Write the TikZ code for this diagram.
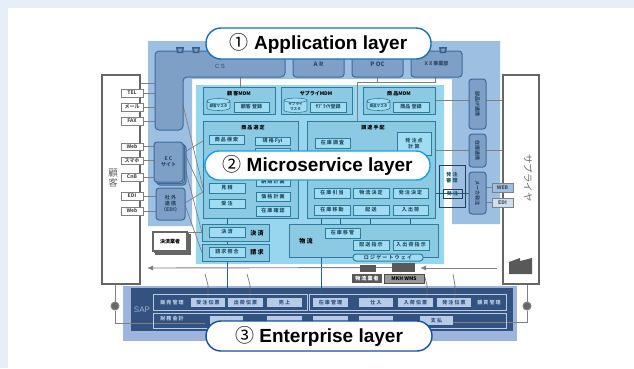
\documentclass[tikz,border=0pt]{standalone}
\usepackage{fontspec}
\setmainfont{Liberation Sans}
\newfontfamily\jpfont{Noto Sans CJK JP}
\usetikzlibrary{shapes.geometric,arrows.meta}
\pgfdeclarelayer{panellayer}
\pgfdeclarelayer{linelayer}
\pgfsetlayers{panellayer,linelayer,main}
\definecolor{pagetint}{HTML}{E6EFF8}
\definecolor{apppanel}{HTML}{9DBFE1}
\definecolor{appfill}{HTML}{7EA0C6}
\definecolor{appline}{HTML}{3F6A98}
\definecolor{micropanel}{HTML}{98D6F0}
\definecolor{microfill}{HTML}{8CCAE4}
\definecolor{microinner}{HTML}{A0DDF4}
\definecolor{microline}{HTML}{2F7C98}
\definecolor{microtext}{HTML}{235268}
\definecolor{sappanel}{HTML}{9DB5DC}
\definecolor{sapdark}{HTML}{33527F}
\definecolor{sapbox}{HTML}{B6CBE6}
\definecolor{greyline}{HTML}{808080}
\definecolor{apprim}{HTML}{186EB4}
\definecolor{microrim}{HTML}{18A0DE}
\definecolor{entrim}{HTML}{184EA0}
\tikzset{
	pxbase/.style={inner sep=0pt,outer sep=0pt,align=center,font=\jpfont\bfseries\fontsize{5}{6}\selectfont},
	tagbox/.style={pxbase,draw=greyline,fill=white,line width=.7pt,text=black!70},
	frontbox/.style={pxbase,draw=black!60,fill=white,line width=1.1pt},
	appbox/.style={pxbase,draw=appline,fill=appfill,line width=1pt,rounded corners=3pt,text=appline!70!black},
	groupbox/.style={pxbase,draw=microline,fill=microfill,line width=1pt,text=microtext},
	innerbox/.style={pxbase,draw=microline,fill=microinner,line width=.6pt,text=microtext},
	stockbox/.style={pxbase,font=\jpfont\bfseries\fontsize{3.6}{4.2}\selectfont,cylinder,shape border rotate=90,aspect=.3,draw=microline,fill=microinner,line width=.6pt,text=microtext},
	approvalbox/.style={pxbase,draw=appline!60!black,line width=.9pt,text=microtext},
	sapbar/.style={pxbase,draw=sapbox,line width=.7pt,text=sapbox},
	sapcell/.style={pxbase,fill=sapbox,text=sapdark},
	linkline/.style={draw=greyline,line width=.7pt},
	microlink/.style={draw=microline!80!black,line width=.6pt},
	saplink/.style={draw=black!60,line width=.6pt},
	darkicon/.style={pxbase,fill=black!65,text=white},
	portdot/.style={circle,draw=greyline,fill=black!60,line width=1pt,inner sep=0pt,minimum size=8pt},
	layerpill/.style={rounded corners=14pt,fill=white,line width=1.4pt,inner sep=0pt,outer sep=0pt,font=\bfseries\fontsize{19}{20}\selectfont}
}
\newcommand{\pxbox}[7][]{\node[#2,#1,minimum width={(#6-#4)*1pt},minimum height={(#7-#5)*1pt}] (#3) at ({(#4+#6)/2},{(#5+#7)/2})}
\newcommand{\pilltext}[2]{{\jpfont\mdseries #1}\ #2}
\begin{document}
\begin{tikzpicture}[x=1pt,y=-1pt]
	\useasboundingbox (0,0) rectangle (634,368);
	\begin{pgfonlayer}{panellayer}
	\fill[pagetint] (0,0) rectangle (634,368);
	\fill[white] (8,8) rectangle (634,368);
	\fill[apppanel] (148,41) -- (500,41) -- (500,224) -- (452,224) -- (452,79) -- (192,79) -- (192,226) -- (148,226) -- cycle;
	\fill[micropanel] (196,85) rectangle (444,264);
	\fill[sappanel] (123,286) rectangle (517,341);
	\fill[sapdark] (131,288) rectangle (513,331);
	\end{pgfonlayer}

	\pxbox{frontbox}{customernode}{102}{75}{140}{284} {};
	\pxbox{frontbox}{suppliernode}{503}{75}{539}{284} {};
	\node[pxbase,font=\jpfont\fontsize{9.5}{10.5}\selectfont,text=black!60] (customertext) at (113,178) {顧\\客};
	\node[pxbase,font=\jpfont\fontsize{9.5}{10.5}\selectfont,text=black!60,rotate=-90] (suppliertext) at (528,178) {サプライヤ};
	\fill[black!65] (509,274) -- (509,262) -- (520,258) -- (520,261) -- (532,258) -- (532,274) -- cycle;

	\pxbox{tagbox}{telnode}{121}{89}{143}{97} {TEL};
	\pxbox{tagbox}{mailnode}{121}{103}{143}{111} {メール};
	\pxbox{tagbox}{faxnode}{121}{117}{143}{125} {FAX};
	\pxbox{tagbox}{webnode}{121}{143}{143}{150} {Web};
	\pxbox{tagbox}{phonenode}{121}{157}{143}{164} {スマホ};
	\pxbox{tagbox}{cnbnode}{121}{173}{143}{181} {CnB};
	\pxbox{tagbox}{edinode}{121}{192}{143}{200} {EDI};
	\pxbox{tagbox}{websitenode}{121}{207}{143}{215} {Web};

	\draw[appline,fill=appfill,line width=1pt,rounded corners=4pt] (155,130) -- (155,51) -- (285,51) -- (285,77) -- (183,77) -- (183,130) -- cycle;
	\coordinate (cstop) at (240,77);
	\coordinate (csleft) at (155,83);
	\coordinate (csbend) at (183,105);
	\node[pxbase,text=appline!70!black,font=\fontsize{6}{7}\selectfont] (cstext) at (220,66) {C S};
	\pxbox{appbox}{arnode}{293}{51}{344}{77} {\fontsize{6}{7}\selectfont A R};
	\pxbox{appbox}{pocnode}{352}{51}{403}{77} {\fontsize{6}{7}\selectfont P OC};
	\pxbox{appbox}{xxnode}{411}{51}{462}{77} {X X 事業部};
	\pxbox[yshift=-3pt,xshift=3pt]{appbox}{ecbackb}{154}{142}{183}{182} {};
	\pxbox[yshift=-1.5pt,xshift=1.5pt]{appbox}{ecbacka}{154}{142}{183}{182} {};
	\pxbox{appbox}{ecnode}{154}{142}{183}{182} {E C\\サイト};
	\pxbox{appbox}{partnernode}{156}{188}{185}{220} {社 外\\連 携\\（EDI）};
	\pxbox{appbox}{partsnode}{469}{79}{486}{129} {\rotatebox{-90}{部品IF連携}};
	\pxbox{appbox}{stocklinknode}{469}{134}{486}{167} {\rotatebox{-90}{在庫連携}};
	\pxbox{appbox}{makernode}{469}{172}{486}{214} {\rotatebox{-90}{メーカ発注}};
	\pxbox[fill=apppanel]{tagbox}{webtagnode}{492}{183}{513}{192} {WEB};
	\pxbox[fill=apppanel!50!white]{tagbox}{editagnode}{492}{198}{513}{207} {EDI};
	\foreach \portx in {180,196,443}
	{
	\fill[appline!90!black] (\portx-4,47) -- (\portx+4,47) -- (\portx+3,53) -- (\portx-3,53) -- cycle;
	\fill[appfill] (\portx-2,48.5) -- (\portx+2,48.5) -- (\portx+1.5,51.5) -- (\portx-1.5,51.5) -- cycle;
	}

	\pxbox[xshift=3pt,yshift=-3pt]{frontbox}{paybackb}{153}{232}{187}{251} {};
	\pxbox[xshift=1.5pt,yshift=-1.5pt]{frontbox}{paybacka}{153}{232}{187}{251} {};
	\pxbox{frontbox}{paynode}{153}{232}{187}{251} {決済業者};

	\pxbox{groupbox}{custmdm}{203}{87}{275}{114} {};
	\node[pxbase] (custmdmtext) at (239,94) {顧 客MDM};
	\pxbox{stockbox}{custstock}{207}{100}{230}{112} {顧客マスタ};
	\pxbox{innerbox}{custreg}{234}{102}{269}{112} {顧客 登録};
	\pxbox{groupbox}{supmdm}{281}{87}{352}{114} {};
	\node[pxbase] (supmdmtext) at (316,94) {サプライMDM};
	\pxbox{stockbox}{supstock}{284}{100}{307}{113} {サプライ\\マスタ};
	\pxbox{innerbox}{supreg}{310}{102}{346}{112} {ｻﾌﾟﾗｲﾔ登録};
	\pxbox{groupbox}{itemmdm}{363}{87}{435}{114} {};
	\node[pxbase] (itemmdmtext) at (399,94) {商 品MDM};
	\pxbox{stockbox}{itemstock}{367}{100}{390}{112} {商品マスタ};
	\pxbox{innerbox}{itemreg}{393}{102}{429}{112} {商品 登録};

	\pxbox{groupbox}{selectgroup}{203}{121}{298}{218} {};
	\node[pxbase] (selecttext) at (253,128) {商 品 選 定};
	\pxbox{innerbox}{searchnode}{209}{135}{244}{144} {商 品 検 索};
	\pxbox{innerbox}{fitnode}{255}{137}{290}{145} {規 格 Fyi};
	\pxbox{innerbox}{hiddennode}{255}{148}{290}{170} {};
	\pxbox{innerbox}{quotenode}{209}{183}{245}{193} {見 積};
	\pxbox{innerbox}{ordernode}{209}{199}{245}{208} {受 注};
	\pxbox{innerbox}{datenode}{256}{178}{290}{186} {納 期 計 画};
	\pxbox{innerbox}{pricenode}{256}{192}{290}{201} {価 格 計 画};
	\pxbox{innerbox}{checknode}{256}{206}{290}{216} {在 庫 確 認};

	\pxbox{groupbox}{buygroup}{307}{121}{435}{218} {};
	\node[pxbase] (buytext) at (373,128) {調 達 手 配};
	\pxbox{innerbox}{surveynode}{315}{138}{350}{148} {在 庫 調 査};
	\pxbox{innerbox}{pointnode}{397}{132}{431}{155} {発 注 点\\計 算};
	\pxbox{innerbox}{allocnode}{314}{188}{350}{198} {在 庫 引 当};
	\pxbox{innerbox}{routenode}{353}{188}{389}{198} {物 流 決 定};
	\pxbox{innerbox}{decidenode}{393}{188}{428}{198} {発 注 決 定};
	\pxbox{innerbox}{movenode}{314}{205}{350}{215} {在 庫 移 動};
	\pxbox{innerbox}{delivnode}{353}{205}{389}{215} {配 送};
	\pxbox{innerbox}{shipnode}{393}{205}{428}{215} {入 出 荷};

	\pxbox{groupbox}{paygroup}{202}{224}{269}{241} {};
	\pxbox{innerbox}{payinner}{209}{227}{245}{237} {決 済};
	\node[pxbase,font=\jpfont\bfseries\fontsize{6}{7}\selectfont] (paytext) at (257,233) {決 済};
	\pxbox{groupbox}{billgroup}{202}{244}{269}{261} {};
	\pxbox{innerbox}{billinner}{209}{247}{245}{257} {請 求 照 合};
	\node[pxbase,font=\jpfont\bfseries\fontsize{6}{7}\selectfont] (billtext) at (257,252) {請 求};

	\pxbox{groupbox}{logisgroup}{289}{224}{438}{257} {};
	\node[pxbase,font=\jpfont\bfseries\fontsize{6}{7}\selectfont] (logistext) at (306,241) {物 流};
	\pxbox{innerbox}{transfernode}{325}{228}{360}{238} {在 庫 移 管};
	\pxbox{innerbox}{sendnode}{353}{240}{389}{250} {配 送 指 示};
	\pxbox{innerbox}{inoutnode}{393}{240}{429}{250} {入 出 荷 指 示};
	\pxbox[rounded corners=3pt,line width=1pt]{innerbox}{gatenode}{353}{254}{423}{261} {ロ ジ ゲ ー ト ウ ェ イ};

	\pxbox{approvalbox}{approvalgroup}{439}{165}{465}{207} {};
	\node[pxbase,text=microtext] (approvaltext) at (452,178) {発 注\\審 理};
	\node[approvalbox,minimum width=19pt,minimum height=9pt] (sendorder) at (452.5,193.5) {発 注};

	\pxbox{darkicon}{trucknode}{360}{265}{376}{272} {};
	\pxbox{darkicon}{gateicon}{392}{263}{415}{272} {};
	\pxbox{darkicon}{carriernode}{352}{274}{382}{283} {物 流 業 者};
	\pxbox[fill=black!40,draw=black!70,line width=.7pt,text=black]{darkicon}{wmsnode}{384}{274}{424}{283} {MKH WMS};
	\coordinate (arrowtail) at (497,268);
	\coordinate (arrowmid) at (420,268);
	\coordinate (arrowend) at (147,268);

	\pxbox{sapbar}{salesbar}{153}{294}{307}{310} {};
	\pxbox{sapbar}{buybar}{309}{294}{506}{310} {};
	\pxbox{sapbar}{accountbar}{153}{313}{506}{328} {};
	\node[pxbase,text=sapbox!80!sapdark,font=\fontsize{8}{9}\selectfont] (saptext) at (142,310) {SAP};
	\node[pxbase,text=sapbox] (salestext) at (172,303) {販 売 管 理};
	\node[pxbase,text=sapbox] (buyingtext) at (489,303) {購 買 管 理};
	\node[pxbase,text=sapbox] (financetext) at (172,319) {財 務 会 計};
	\pxbox{sapcell}{sapa}{191}{298}{225}{307} {受 注 伝 票};
	\pxbox{sapcell}{sapb}{228}{298}{263}{307} {出 荷 伝 票};
	\pxbox{sapcell}{sapc}{267}{298}{302}{307} {売 上};
	\pxbox{sapcell}{sapd}{313}{298}{348}{307} {在 庫 管 理};
	\pxbox{sapcell}{sape}{359}{298}{393}{307} {仕 入};
	\pxbox{sapcell}{sapf}{398}{298}{433}{307} {入 荷 伝 票};
	\pxbox{sapcell}{sapg}{437}{298}{471}{307} {発 注 伝 票};
	\pxbox{sapcell}{saph}{210}{316}{243}{325} {};
	\pxbox{sapcell}{sapi}{267}{316}{302}{325} {};
	\pxbox{sapcell}{sapj}{313}{316}{348}{325} {};
	\pxbox{sapcell}{sapk}{359}{316}{393}{325} {};
	\pxbox{sapcell}{sapl}{420}{316}{453}{325} {支 払};

	\node[portdot] (leftport) at (115,306) {};
	\node[portdot] (rightport) at (527,306) {};

	\begin{pgfonlayer}{linelayer}
	\draw[linkline] (customernode.east |- csleft) -- (csleft);
	\foreach \tagname/\targetname in {telnode/csleft,mailnode/csleft,faxnode/csleft,webnode/ecnode,phonenode/ecnode,cnbnode/ecnode,edinode/partnernode,websitenode/partnernode}
		\draw[linkline] (\tagname.east) -- (\targetname.west |- \tagname.east);
	\draw[linkline] (cstop) -- (custmdm.north -| cstop);
	\draw[linkline] (pocnode.south) -- ++(0,5) -| (buygroup.north -| 357,0);
	\draw[linkline] (xxnode.south -| 435,0) -- ++(0,5) -- ++(-58,0);
	\draw[linkline] (csbend) -- (selectgroup.west |- quotenode);
	\draw[linkline] (ecnode.east |- 0,153) -- (selectgroup.west |- 0,141);
	\draw[linkline] (ecnode.east |- 0,150) -- (selectgroup.west |- quotenode.south);
	\draw[linkline] (ecnode.east |- 0,160) -- (paygroup.west);
	\draw[linkline] (partnernode.east |- 0,203) -- (selectgroup.west |- 0,192);
	\draw[linkline] (partnernode.east |- 0,205) -- (billgroup.west);
	\draw[linkline] (paynode.east |- paygroup.west) -- (paygroup.west);
	\draw[linkline] (itemmdm.east) -- (suppliernode.west |- itemmdm.east);
	\draw[linkline] (buygroup.east |- 0,150) -- (suppliernode.west |- 0,150);
	\draw[linkline] (webtagnode.west) -- (makernode.east |- webtagnode.west);
	\draw[linkline] (editagnode.west) -- (makernode.east |- editagnode.west);
	\draw[microlink] (decidenode.east) -- (makernode.west |- decidenode.east);
	\draw[microlink] (searchnode.east) -- (fitnode.west);
	\draw[microlink] (searchnode.south -| 227,0) -- (quotenode.north -| 227,0);
	\foreach \startname in {quotenode,ordernode}
		\foreach \endname in {datenode,pricenode,checknode}
			\draw[microlink] (\startname.east) -- (\endname.west);
	\draw[microlink] (ordernode.south) -- (227,316);
	\draw[microlink] (370,182) -- (allocnode.north);
	\draw[microlink] (370,182) -- (decidenode.north);
	\draw[microlink] (370,160) -- (routenode.north);
	\draw[microlink] (allocnode.south) -- (movenode.north -| allocnode.south);
	\draw[microlink] (routenode.south) -- (delivnode.north);
	\draw[microlink] (routenode.south) -- (shipnode.north);
	\draw[microlink] (decidenode.south) -- (shipnode.north);
	\draw[microlink] (movenode.south -| 321,0) -- (321,298);
	\draw[microlink] (movenode.south -| 340,0) -- (transfernode.north -| 340,0);
	\draw[microlink] (delivnode.south -| 370,0) -- (sendnode.north -| 370,0);
	\draw[microlink] (shipnode.south -| 410,0) -- (inoutnode.north -| 410,0);
	\draw[microlink] (transfernode.east) -- (sendnode.north west);
	\draw[microlink] (transfernode.east) -- (inoutnode.north);
	\draw[microlink] (sendnode.south) -- (gatenode.north -| sendnode.south);
	\draw[microlink] (inoutnode.south -| 410,0) -- (gatenode.north -| 410,0);
	\draw[linkline,line width=.9pt,-{Latex[length=6pt,width=5pt]}] (arrowtail) -- (arrowmid);
	\draw[linkline,line width=.9pt,-{Latex[length=6pt,width=5pt]}] (gateicon.west) -- (arrowend);
	\draw[linkline] (customernode.south -| leftport) -- (leftport);
	\draw[linkline] (suppliernode.south -| rightport) -- (rightport);
	\draw[linkline] (leftport) -- (115,323) -- (205,323);
	\draw[linkline] (rightport) -- (527,322) -- (sapl.east |- 0,322);
	\draw[saplink] (205,274) -- (208,285) -- (sapa.north -| 208,0);
	\draw[saplink] (247,274) -- (250,285) -- (sapb.north -| 250,0);
	\draw[saplink] (424,274) -- (427,285) -- (sapf.north -| 427,0);
	\draw[saplink] (453,274) -- (455,285) -- (sapg.north -| 455,0);
	\end{pgfonlayer}

	\pxbox[draw=apprim,rounded corners=15pt]{layerpill}{apppill}{206}{28}{431}{59} {\pilltext{①}{Application layer}};
	\pxbox[draw=microrim]{layerpill}{micropill}{205}{151}{430}{180} {\pilltext{②}{Microservice layer}};
	\pxbox[draw=entrim,rounded corners=15pt]{layerpill}{entpill}{206}{321}{432}{351} {\pilltext{③}{Enterprise layer}};
\end{tikzpicture}
\end{document}
